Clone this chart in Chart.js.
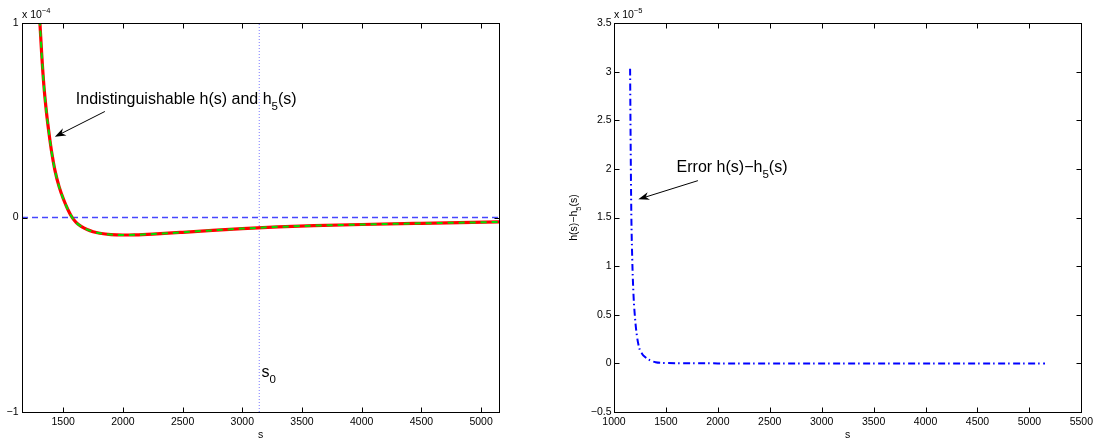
<!DOCTYPE html>
<html>
<head>
<meta charset="utf-8">
<script src="https://cdn.jsdelivr.net/npm/chart.js@4.4.1/dist/chart.umd.min.js"></script>
<style>
  html, body { margin: 0; padding: 0; background: #fff; }
  #wrap { position: relative; width: 1097px; height: 438px; overflow: hidden; }
  canvas { position: absolute; top: 0; }
  #left { left: 0; }
  #right { left: 540px; }
</style>
</head>
<body>
<div id="wrap">
  <canvas id="left" width="540" height="438"></canvas>
  <canvas id="right" width="557" height="438"></canvas>
</div>
<script>
// --- data (left: units of 1e-4, right: units of 1e-5) ---
const sRange = [1155, 5150];
const s0 = 3142;

const sLeft = [1280, 1305, 1320, 1338, 1360, 1383, 1405, 1430, 1465, 1505, 1540, 1575, 1612, 1650,
               1700, 1750, 1807, 1900, 2000, 2100, 2250, 2500, 2750, 3000, 3300, 3600, 4000, 4500, 5150];
const hVals  = [1.30, 1.00, 0.84, 0.68, 0.54, 0.425, 0.33, 0.245, 0.16, 0.09, 0.04, 0.0, -0.028, -0.046,
               -0.062, -0.073, -0.081, -0.088, -0.090, -0.089, -0.085, -0.076, -0.066, -0.057, -0.048, -0.042, -0.036, -0.030, -0.023];
const h5Vals = [1.30, 1.00, 0.84, 0.68, 0.54, 0.425, 0.33, 0.245, 0.16, 0.09, 0.04, 0.0, -0.028, -0.046,
               -0.062, -0.073, -0.081, -0.088, -0.090, -0.089, -0.085, -0.076, -0.066, -0.057, -0.048, -0.042, -0.036, -0.030, -0.023];

const sRight   = [1155, 1160, 1166, 1175, 1188, 1200, 1215, 1240, 1270, 1300, 1350, 1400, 1500, 2000, 3000, 4000, 5000, 5150];
const errVals  = [3.03, 2.30, 1.60, 1.10, 0.70, 0.50, 0.33, 0.17, 0.10, 0.065, 0.030, 0.012, 0.003, 0, 0, 0, 0, 0];

const xTicksLeft  = [1500, 2000, 2500, 3000, 3500, 4000, 4500, 5000];
const yTicksLeft  = [-1, 0, 1];
const xTicksRight = [1000, 1500, 2000, 2500, 3000, 3500, 4000, 4500, 5000, 5500];
const yTicksRight = [-0.5, 0, 0.5, 1, 1.5, 2, 2.5, 3, 3.5];

// --- look ---
const FAMILY = '"Liberation Sans", Arial, Helvetica, sans-serif';
const TICK_FONT = { family: FAMILY, size: 10.5 };
const NOTE_SIZE = 16;

const pts = (xs, ys) => xs.map((x, i) => ({ x, y: ys[i] }));
const fmt = v => (v < 0 ? '\u2212' : '') + Math.abs(v);

function drawRich(ctx, parts, x, y, size) {
  let cx = x;
  parts.forEach(p => {
    const small = p.sub || p.sup;
    ctx.font = `${small ? size * 0.72 : size}px ${FAMILY}`;
    const dy = p.sub ? size * 0.4 : p.sup ? -size * 0.5 : 0;
    ctx.fillText(p.t, cx, y + dy);
    cx += ctx.measureText(p.t).width;
  });
  return cx - x;
}

function richWidth(ctx, parts, size) {
  return parts.reduce((w, p) => {
    ctx.font = `${p.sub || p.sup ? size * 0.72 : size}px ${FAMILY}`;
    return w + ctx.measureText(p.t).width;
  }, 0);
}

function arrow(ctx, x1, y1, x2, y2) {
  const a = Math.atan2(y2 - y1, x2 - x1), c = Math.cos(a), s = Math.sin(a);
  const L = 11, W = 4;
  ctx.beginPath();
  ctx.moveTo(x1, y1);
  ctx.lineTo(x2 - c * 4, y2 - s * 4);
  ctx.stroke();
  ctx.beginPath();
  ctx.moveTo(x2, y2);
  ctx.lineTo(x2 - L * c + W * s, y2 - L * s - W * c);
  ctx.lineTo(x2 - 0.7 * L * c, y2 - 0.7 * L * s);
  ctx.lineTo(x2 - L * c - W * s, y2 - L * s + W * c);
  ctx.closePath();
  ctx.fill();
}

// box, inward ticks, exponent, labels and arrows in MATLAB style
function matlabPlugin(cfg) {
  return {
    id: 'matlab',
    afterDraw(chart) {
      const { ctx, chartArea: a, scales: { x, y } } = chart;
      const L = Math.round(a.left) + 0.5, R = Math.round(a.right) + 0.5;
      const T = Math.round(a.top) + 0.5, B = Math.round(a.bottom) + 0.5;
      ctx.save();
      ctx.strokeStyle = '#000';
      ctx.fillStyle = '#000';
      ctx.lineWidth = 1;
      ctx.strokeRect(L, T, R - L, B - T);
      ctx.beginPath();
      x.ticks.forEach(t => {
        const px = Math.round(x.getPixelForValue(t.value)) + 0.5;
        ctx.moveTo(px, B); ctx.lineTo(px, B - 5);
        ctx.moveTo(px, T); ctx.lineTo(px, T + 5);
      });
      y.ticks.forEach(t => {
        const py = Math.round(y.getPixelForValue(t.value)) + 0.5;
        ctx.moveTo(L, py); ctx.lineTo(L + 5, py);
        ctx.moveTo(R, py); ctx.lineTo(R - 5, py);
      });
      ctx.stroke();

      ctx.textBaseline = 'alphabetic';
      ctx.textAlign = 'left';
      // exponent
      drawRich(ctx, [{ t: 'x 10' }, { t: cfg.expo, sup: true }], a.left, a.top - 5, 10.5);

      // x label
      ctx.textAlign = 'center';
      ctx.font = `10.5px ${FAMILY}`;
      ctx.fillText('s', (a.left + a.right) / 2, 437.5);
      ctx.textAlign = 'left';

      // y label (rotated)
      if (cfg.yTitle) {
        const w = richWidth(ctx, cfg.yTitle, 10.5);
        ctx.save();
        ctx.translate(cfg.yTitleX, (a.top + a.bottom) / 2);
        ctx.rotate(-Math.PI / 2);
        drawRich(ctx, cfg.yTitle, -w / 2, 0, 10.5);
        ctx.restore();
      }

      // notes + arrows (anchored in data units)
      cfg.notes.forEach(n => {
        drawRich(ctx, n.parts, x.getPixelForValue(n.at[0]), y.getPixelForValue(n.at[1]), NOTE_SIZE);
        if (n.from) {
          arrow(ctx, x.getPixelForValue(n.from[0]), y.getPixelForValue(n.from[1]),
                x.getPixelForValue(n.to[0]), y.getPixelForValue(n.to[1]));
        }
      });
      ctx.restore();
    }
  };
}

function axis(min, max, ticks, position, padding, fit) {
  return {
    type: 'linear', position, min, max,
    grid: { display: false, drawTicks: false },
    border: { display: false },
    afterBuildTicks: sc => { sc.ticks = ticks.map(v => ({ value: v })); },
    afterFit: fit,
    ticks: { padding, font: TICK_FONT, color: '#000', autoSkip: false, maxRotation: 0, callback: v => fmt(v) }
  };
}

function makeChart(id, box, datasets, scales, cfg) {
  const el = document.getElementById(id);
  return new Chart(el, {
    type: 'line',
    data: { datasets },
    options: {
      responsive: false,
      animation: false,
      devicePixelRatio: 1,
      layout: { padding: { top: box.top, right: el.width - box.right, bottom: 0, left: 0 } },
      plugins: { legend: { display: false }, tooltip: { enabled: false } },
      elements: { point: { radius: 0 } },
      scales
    },
    plugins: [matlabPlugin(cfg)]
  });
}

// left panel
makeChart('left', { left: 22, top: 23, right: 499, bottom: 412 }, [
  { data: pts(sLeft, h5Vals), borderColor: '#00e000', borderWidth: 2, borderDash: [6, 5],
    cubicInterpolationMode: 'monotone', clip: 0 },
  { data: pts(sLeft, hVals), borderColor: '#ff0000', borderWidth: 3.2,
    cubicInterpolationMode: 'monotone', clip: 0 },
  { data: pts(sRange, [0, 0]), borderColor: '#4646ff', borderWidth: 1.5, borderDash: [6, 4], clip: 0 },
  { data: pts([s0, s0], [-1, 1]), borderColor: '#7a7aff', borderWidth: 1, borderDash: [1, 2], clip: 0 }
], {
  x: axis(sRange[0], sRange[1], xTicksLeft, 'bottom', 4, sc => { sc.height = 26; }),
  y: axis(-1, 1, yTicksLeft, 'left', 3.5, sc => { sc.width = 22; })
}, {
  expo: '\u22124',
  notes: [
    { parts: [{ t: 'Indistinguishable h(s) and h' }, { t: '5', sub: true }, { t: '(s)' }],
      at: [1606, 0.586], from: [1849, 0.545], to: [1430, 0.415] },
    { parts: [{ t: 's' }, { t: '0', sub: true }], at: [3160, -0.819] }
  ]
});

// right panel
makeChart('right', { left: 74, top: 23, right: 542, bottom: 412 }, [
  { data: pts(sRight, errVals), borderColor: '#0000ff', borderWidth: 2, borderDash: [7, 3, 1.5, 3.5],
    cubicInterpolationMode: 'monotone' }
], {
  x: axis(1000, 5500, xTicksRight, 'bottom', 4, sc => { sc.height = 26; }),
  y: axis(-0.5, 3.5, yTicksRight, 'left', 2.5, sc => { sc.width = 74; })
}, {
  expo: '\u22125',
  yTitle: [{ t: 'h(s)\u2212h' }, { t: '5', sub: true }, { t: '(s)' }],
  yTitleX: 37,
  notes: [
    { parts: [{ t: 'Error h(s)\u2212h' }, { t: '5', sub: true }, { t: '(s)' }],
      at: [1603, 1.973], from: [1808, 1.879], to: [1234, 1.687] }
  ]
});
</script>
</body>
</html>
